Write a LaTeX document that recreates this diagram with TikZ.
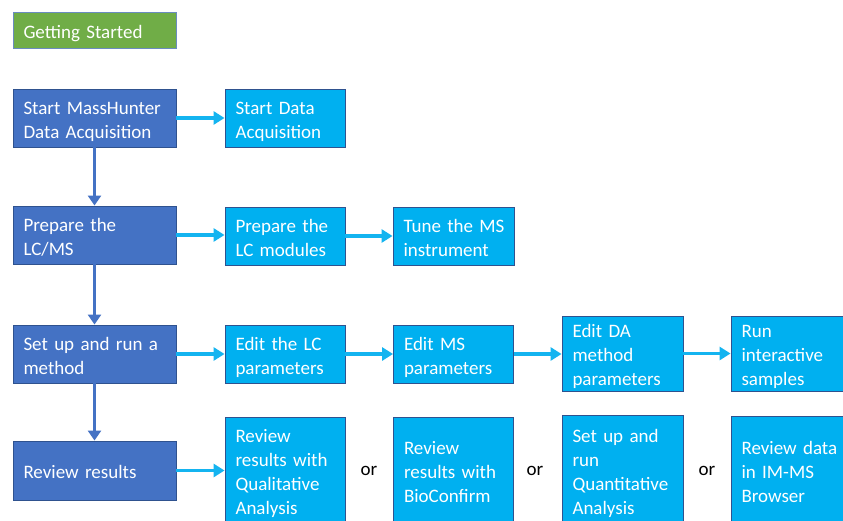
\documentclass[tikz,border=0pt]{standalone}
\usepackage{fontspec}
\setmainfont{Carlito}
\usetikzlibrary{arrows.meta}
\definecolor{gsgreen}{HTML}{70AD47}
\definecolor{gsborder}{HTML}{6A8CC0}
\definecolor{dkblue}{HTML}{4472C4}
\definecolor{dkborder}{HTML}{2F528F}
\definecolor{ltblue}{HTML}{00B0F0}
\definecolor{ltarrow}{HTML}{14B4F0}
\hfuzz=20pt
\tikzset{
  box/.style={draw=dkborder, line width=0.9pt, text=white, align=left,
    inner xsep=10.5pt, inner ysep=0pt,
    font=\fontsize{19}{24}\selectfont},
  one/.style={text height=20pt, text depth=4pt},
  two/.style={text height=20pt, text depth=28pt},
  three/.style={text height=20pt, text depth=52pt},
  four/.style={text height=20pt, text depth=76pt},
  dbox/.style={box, fill=dkblue, minimum width=163pt, text width=142pt},
  lbox/.style={box, fill=ltblue, text width=#1-21pt, minimum width=#1},
  gbox/.style={box, draw=gsborder, fill=gsgreen, minimum width=163pt, text width=142pt, minimum height=36pt},
  varrow/.style={draw=dkblue, line width=3.5pt, -{Triangle[length=10pt,width=13pt]}},
  harrow/.style={draw=ltarrow, line width=3.5pt, -{Triangle[length=11pt,width=13pt]}},
  ortext/.style={font=\fontsize{19}{24}\selectfont, text=black}
}
\begin{document}
\begin{tikzpicture}[x=1pt,y=-1pt]
\clip (0,0) rectangle (843,520);
\fill[white] (0,0) rectangle (843,520);
\node[gbox, one] (gs) at (94.5,30) {Getting Started};
\node[dbox, two, minimum height=58pt] (d1) at (94.5,118) {Start MassHunter\\Data Acquisition};
\node[dbox, two, minimum height=58pt] (d2) at (94.5,235) {Prepare the\\LC/MS};
\node[dbox, two, minimum height=58pt] (d3) at (94.5,354) {\mbox{Set up and run a}\\method};
\node[dbox, one, minimum height=59pt] (d4) at (94.5,470.5) {Review results};

\node[lbox=120pt, two, minimum height=58pt] (l1a) at (285,118) {Start Data\\Acquisition};
\node[lbox=120pt, two, minimum height=58pt] (l2a) at (285,236) {\mbox{Prepare the}\\LC modules};
\node[lbox=121pt, two, minimum height=58pt] (l2b) at (453.5,236) {\mbox{Tune the MS}\\instrument};
\node[lbox=120pt, two, minimum height=58pt] (l3a) at (285,354) {\mbox{Edit the LC}\\parameters};
\node[lbox=120pt, two, minimum height=58pt] (l3b) at (453.5,354) {Edit MS\\parameters};
\node[lbox=121pt, three, minimum height=75pt] (l3c) at (622.5,353.5) {Edit DA\\method\\parameters};
\node[lbox=121pt, three, minimum height=75pt] (l3d) at (791.5,353.5) {Run\\interactive\\samples};
\node[lbox=120pt, four, minimum height=107pt] (l4a) at (285,470.5) {Review\\\mbox{results with}\\Qualitative\\Analysis};
\node[lbox=120pt, three, minimum height=107pt] (l4b) at (453.5,470.5) {Review\\\mbox{results with}\\BioConfirm};
\node[lbox=121pt, four, minimum height=111pt] (l4c) at (622.5,470.5) {\mbox{Set up and}\\run\\Quantitative\\Analysis};
\node[lbox=121pt, three, minimum height=108pt] (l4d) at (791.5,470.5) {\mbox{Review data}\\in IM-MS\\Browser};

\node[ortext] (or1) at (369,471) {or};
\node[ortext] (or2) at (535,471) {or};
\node[ortext] (or3) at (707,471) {or};

\draw[varrow] (d1.south) -- (d2.north);
\draw[varrow] (d2.south) -- (d3.north);
\draw[varrow] (d3.south) -- (d4.north);

\draw[harrow] (d1.east) -- (l1a.west);
\draw[harrow] (d2.east) -- (d2.east -| l2a.west);
\draw[harrow] (l2a.east) -- (l2a.east -| l2b.west);
\draw[harrow] (d3.east) -- (d3.east -| l3a.west);
\draw[harrow] (l3a.east) -- (l3a.east -| l3b.west);
\draw[harrow] (l3b.east) -- (l3b.east -| l3c.west);
\draw[harrow] (l3c.east) -- (l3c.east -| l3d.west);
\draw[harrow] (d4.east) -- (d4.east -| l4a.west);
\end{tikzpicture}
\end{document}
